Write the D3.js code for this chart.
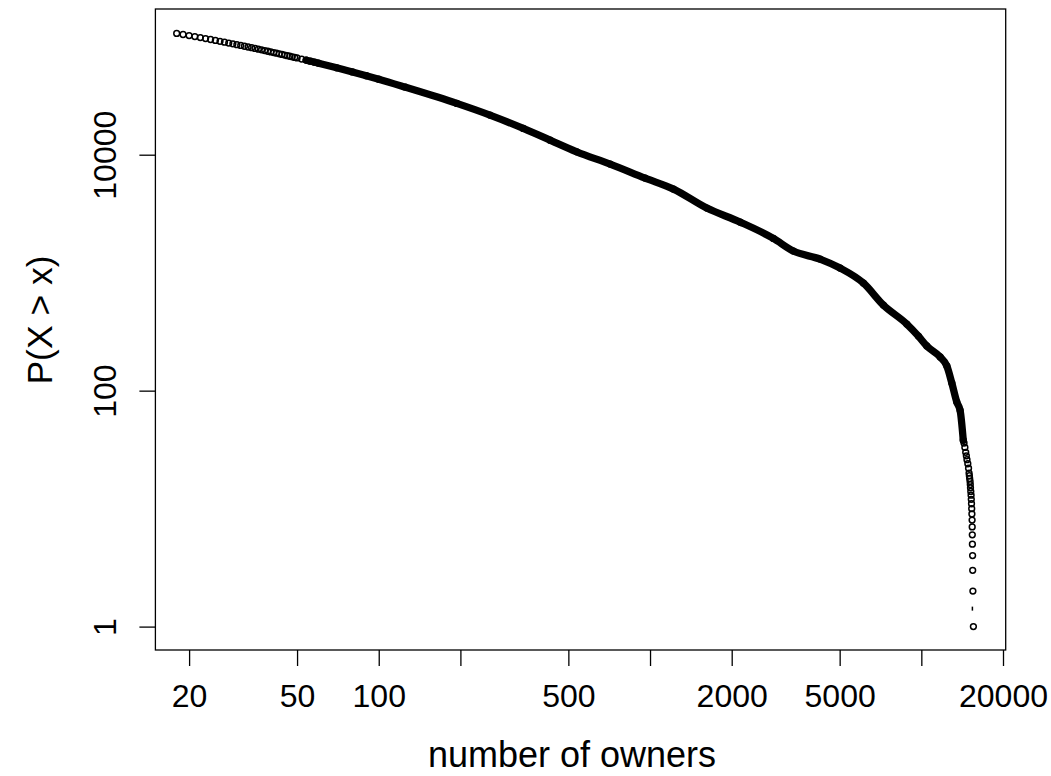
<!DOCTYPE html>
<html>
<head>
<meta charset="utf-8">
<script src="https://cdn.jsdelivr.net/npm/d3@7"></script>
<style>
  body { margin: 0; background: #fff; }
  svg { display: block; }
  text { font-family: "Liberation Sans", Arial, Helvetica, sans-serif; fill: #000; }
</style>
</head>
<body>
<svg id="chart" width="1051" height="776"></svg>
<script>
// Head of the distribution: one point per owner count
const headOwners = [18, 19, 20, 21, 22, 23, 24, 25, 26, 27, 28, 29, 30, 31, 32, 33, 34, 35, 36, 37, 38, 39, 40,
                    41, 42, 43, 44, 45, 46, 47, 48, 49, 50, 52, 54, 56, 58, 60];
const headCounts = [106700, 104400, 102260, 100230, 98310, 96470, 94710, 93030, 91440, 89890, 88420, 87000,
                    85630, 84320, 83070, 81850, 80680, 79530, 78440, 77370, 76350, 75350, 74390,
                    73450, 72530, 71650, 70780, 69940, 69130, 68340, 67570, 66820, 66090, 64680, 63340,
                    62050, 60850, 59670];

// Middle of the distribution, where the markers run together
const bodyOwners = [70, 80, 90, 100, 125, 194, 257, 341, 428, 537, 713, 959, 1220, 1619, 2148, 2848,
                    3376, 4234, 5018, 6116, 7248, 8840, 9754, 10474, 11730, 12414, 12954, 13514, 13898];
const bodyCounts = [54500, 50270, 46700, 43630, 37400, 27210, 21650, 16700, 13290, 10580, 8325, 6335,
                    5110, 3527, 2685, 1953, 1524, 1304, 1094, 816, 531, 367, 290, 239, 193, 162, 116, 80, 68];

// Tail: the most widely owned items, one point per rank
const tailOwners = [15556, 15491, 15464, 15451, 15425, 15412, 15399, 15386, 15360, 15334, 15308, 15281,
                    15255, 15216, 15177, 15151, 15125, 15072, 15033, 14994, 14929, 14837, 14732, 14654,
                    14575, 14471, 14366, 14275];
const tailCounts = [1, 2, 3, 4, 5, 6, 7, 8, 9, 10, 11, 12, 13, 14, 15, 16, 17, 18, 19, 20, 22, 24, 26, 28,
                    30, 33, 36, 38];

// A single dash mark drawn near the bottom of the tail
const dashOwners = [15425];
const dashCounts = [1.42];

const xTickValues = [20, 50, 100, 200, 500, 1000, 2000, 5000, 10000, 20000];
const xTickLabels = [20, 50, 100, 500, 2000, 5000, 20000];
const yTickValues = [1, 100, 10000];

const xTitle = "number of owners";
const yTitle = "P(X > x)";

// Plot frame
const frame = { left: 155.4, right: 1005.7, top: 9, bottom: 650 };

const x = d3.scaleLog().domain([20, 20000]).range([189.1, 1003]);
const y = d3.scaleLog().domain([1, 10000]).range([626.6, 154.7]);

const svg = d3.select("#chart");

const toPoints = (xs, ys) => xs.map((v, i) => ({ owners: v, count: ys[i] }));
const head = toPoints(headOwners, headCounts);
const body = toPoints(bodyOwners, bodyCounts);
const tail = toPoints(tailOwners, tailCounts);
const dash = toPoints(dashOwners, dashCounts);

const R = 2.9, SW = 1.5;

// Solid band where the circles overlap into one another
const bandData = [...head.slice(-4), ...body, tail[tail.length - 1]];
const band = d3.line()
  .x(d => x(d.owners))
  .y(d => y(d.count))
  .curve(d3.curveMonotoneX);

const plot = svg.append("g");

plot.append("path")
  .datum(bandData)
  .attr("d", band)
  .attr("fill", "none")
  .attr("stroke", "#000")
  .attr("stroke-width", 2 * R + SW)
  .attr("stroke-linejoin", "round")
  .attr("stroke-linecap", "round");

plot.selectAll("circle.pt")
  .data([...head, ...body, ...tail])
  .join("circle")
  .attr("class", "pt")
  .attr("cx", d => x(d.owners))
  .attr("cy", d => y(d.count))
  .attr("r", R)
  .attr("fill", "none")
  .attr("stroke", "#000")
  .attr("stroke-width", SW);

plot.selectAll("line.dash")
  .data(dash)
  .join("line")
  .attr("class", "dash")
  .attr("x1", d => x(d.owners)).attr("x2", d => x(d.owners))
  .attr("y1", d => y(d.count) - 2).attr("y2", d => y(d.count) + 2)
  .attr("stroke", "#000")
  .attr("stroke-width", SW);

// Box around the plot region
svg.append("rect")
  .attr("x", frame.left).attr("y", frame.top)
  .attr("width", frame.right - frame.left).attr("height", frame.bottom - frame.top)
  .attr("fill", "none").attr("stroke", "#000").attr("stroke-width", 1.3);

// Bottom axis
const xAxis = d3.axisBottom(x)
  .tickValues(xTickValues)
  .tickSize(16)
  .tickFormat(d => xTickLabels.includes(d) ? String(d) : "");

const gx = svg.append("g")
  .attr("transform", `translate(0,${frame.bottom})`)
  .call(xAxis);
gx.select(".domain").remove();
gx.selectAll(".tick line").attr("stroke", "#000").attr("stroke-width", 1.3);
gx.selectAll(".tick text")
  .attr("y", 56.7).attr("dy", 0)
  .attr("font-size", 32)
  .attr("font-family", "Liberation Sans, Arial, Helvetica, sans-serif")
  .attr("fill", "#000");

// Left axis with rotated labels
const yAxis = d3.axisLeft(y)
  .tickValues(yTickValues)
  .tickSize(16)
  .tickFormat(d3.format("d"));

const gy = svg.append("g")
  .attr("transform", `translate(${frame.left},0)`)
  .call(yAxis);
gy.select(".domain").remove();
gy.selectAll(".tick line").attr("stroke", "#000").attr("stroke-width", 1.3);
gy.selectAll(".tick text")
  .attr("x", 0).attr("y", 0).attr("dy", 0)
  .attr("transform", "translate(-39.4,0) rotate(-90)")
  .attr("text-anchor", "middle")
  .attr("font-size", 32)
  .attr("font-family", "Liberation Sans, Arial, Helvetica, sans-serif")
  .attr("fill", "#000");

// Axis titles
svg.append("text")
  .attr("x", 572).attr("y", 767)
  .attr("text-anchor", "middle")
  .attr("font-size", 36)
  .text(xTitle);

svg.append("text")
  .attr("transform", "translate(52,320) rotate(-90)")
  .attr("text-anchor", "middle")
  .attr("font-size", 35.5)
  .text(yTitle);
</script>
</body>
</html>
